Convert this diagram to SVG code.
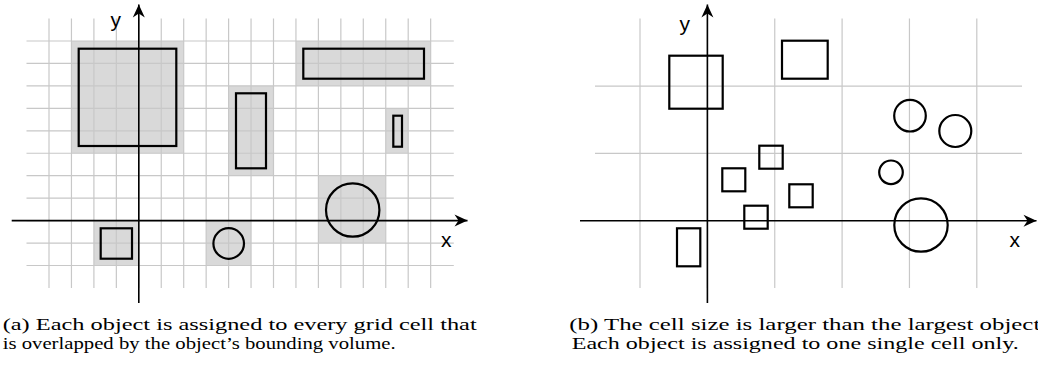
<svg xmlns="http://www.w3.org/2000/svg" width="1038" height="370" viewBox="0 0 1038 370">
<style>
.grid{stroke:#c8c8c8;stroke-width:1.2;fill:none}
.cell{fill:#d9d9d9;stroke:none}
.obj{fill:none;stroke:#000;stroke-width:2.2}
.axis{stroke:#000;stroke-width:1.6;fill:none}
.lbl{font-family:"Liberation Sans",Arial,sans-serif;font-size:21px;fill:#000}
.cap{font-family:"Liberation Serif","Times New Roman",serif;font-size:17px;fill:#000}
</style>
<defs>
<marker id="arr" markerUnits="userSpaceOnUse" markerWidth="16" markerHeight="16" viewBox="-14 -8 16 16" refX="0" refY="0" orient="auto">
<path d="M0,0 L-13,-6 L-9,0 L-13,6 Z" fill="#000"/>
</marker>
</defs>
<rect width="1038" height="370" fill="#fff"/>

<!-- Panel (a) -->
<g id="cells-a">
<rect class="cell" x="71.45" y="41" width="112.25" height="112.25"/>
<rect class="cell" x="228.6" y="85.9" width="44.9" height="89.8"/>
<rect class="cell" x="295.95" y="41" width="134.7" height="44.9"/>
<rect class="cell" x="385.75" y="108.35" width="22.45" height="44.9"/>
<rect class="cell" x="318.4" y="175.7" width="67.35" height="67.35"/>
<rect class="cell" x="93.9" y="220.6" width="44.9" height="44.9"/>
<rect class="cell" x="206.15" y="220.6" width="44.9" height="44.9"/>
</g>
<g id="grid-a" class="grid">
<path d="M26.5,41H453.8M26.5,63.45H453.8M26.5,85.9H453.8M26.5,108.35H453.8M26.5,130.8H453.8M26.5,153.25H453.8M26.5,175.7H453.8M26.5,198.15H453.8M26.5,220.6H453.8M26.5,243.05H453.8M26.5,265.5H453.8"/>
<path d="M49,18.5V288M71.45,18.5V288M93.9,18.5V288M116.35,18.5V288M138.8,18.5V288M161.25,18.5V288M183.7,18.5V288M206.15,18.5V288M228.6,18.5V288M251.05,18.5V288M273.5,18.5V288M295.95,18.5V288M318.4,18.5V288M340.85,18.5V288M363.3,18.5V288M385.75,18.5V288M408.2,18.5V288M430.65,18.5V288"/>
</g>
<g id="axes-a">
<line class="axis" x1="11.7" y1="220.6" x2="467.5" y2="220.6" marker-end="url(#arr)"/>
<line class="axis" x1="138.8" y1="303" x2="138.8" y2="4.5" marker-end="url(#arr)"/>
<text class="lbl" x="110.5" y="27">y</text>
<text class="lbl" x="441" y="247">x</text>
</g>
<g id="objects-a">
<rect id="a-square-big" class="obj" x="78.7" y="48.7" width="97.6" height="97.3"/>
<rect id="a-rect-tall" class="obj" x="236" y="93.3" width="30" height="75"/>
<rect id="a-rect-wide" class="obj" x="303.3" y="48.7" width="120.7" height="30"/>
<rect id="a-rect-thin" class="obj" x="393.3" y="115.7" width="8.7" height="31"/>
<circle id="a-circle-big" class="obj" cx="352.7" cy="210" r="26.7"/>
<rect id="a-square-small" class="obj" x="100.7" y="228.3" width="31.3" height="30.4"/>
<circle id="a-circle-small" class="obj" cx="228.7" cy="243.5" r="15.3"/>
</g>

<!-- Panel (b) -->
<g id="grid-b" class="grid">
<path d="M595,86.1H1022M595,153.45H1022"/>
<path d="M640,18.6V288M707.4,18.6V288M774.75,18.6V288M842.1,18.6V288M909.45,18.6V288M976.8,18.6V288"/>
</g>
<g id="axes-b">
<line class="axis" x1="580" y1="220.8" x2="1036.5" y2="220.8" marker-end="url(#arr)"/>
<line class="axis" x1="707.4" y1="303" x2="707.4" y2="4.5" marker-end="url(#arr)"/>
<text class="lbl" x="679.5" y="31">y</text>
<text class="lbl" x="1009.5" y="247">x</text>
</g>
<g id="objects-b">
<rect id="b-sq1" class="obj" x="669.3" y="55.7" width="53.4" height="53"/>
<rect id="b-sq2" class="obj" x="782" y="40.7" width="45.7" height="38"/>
<circle id="b-c1" class="obj" cx="910" cy="115.7" r="15.8"/>
<circle id="b-c2" class="obj" cx="955.3" cy="131" r="16"/>
<circle id="b-c3" class="obj" cx="891" cy="172.3" r="11.8"/>
<circle id="b-c4" class="obj" cx="921" cy="225" r="26.7"/>
<rect id="b-sq3" class="obj" x="722.3" y="168.3" width="23" height="23"/>
<rect id="b-sq4" class="obj" x="759.3" y="145.7" width="23.4" height="23"/>
<rect id="b-sq5" class="obj" x="789.3" y="184.3" width="23.4" height="23"/>
<rect id="b-sq6" class="obj" x="744.3" y="205.7" width="23.4" height="23"/>
<rect id="b-rect" class="obj" x="677" y="228.3" width="23.3" height="38"/>
</g>

<!-- Captions -->
<g id="captions">
<text class="cap" x="2.7" y="330" textLength="474" lengthAdjust="spacingAndGlyphs">(a) Each object is assigned to every grid cell that</text>
<text class="cap" x="2.7" y="349" textLength="393" lengthAdjust="spacingAndGlyphs">is overlapped by the object’s bounding volume.</text>
<text class="cap" x="569.3" y="330" textLength="471" lengthAdjust="spacingAndGlyphs">(b) The cell size is larger than the largest object</text>
<text class="cap" x="571.7" y="349" textLength="447" lengthAdjust="spacingAndGlyphs">Each object is assigned to one single cell only.</text>
</g>
</svg>
